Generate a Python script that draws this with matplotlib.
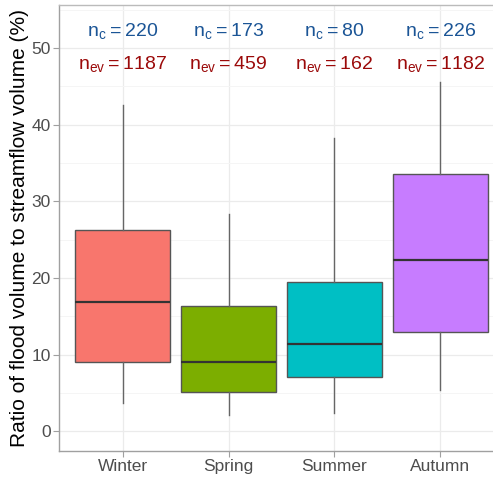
import matplotlib.pyplot as plt
import numpy as np

plt.rcParams['font.family'] = ['Liberation Sans', 'DejaVu Sans']
plt.rcParams['mathtext.fontset'] = 'custom'
plt.rcParams['mathtext.rm'] = 'Liberation Sans'

# 계절별 박스플롯 통계값
seasons = ['Winter', 'Spring', 'Summer', 'Autumn']
whisker_low = [3.65, 2.1, 2.35, 5.4]
q1 = [9.0, 5.1, 7.05, 13.0]
median = [16.9, 9.1, 11.35, 22.3]
q3 = [26.3, 16.3, 19.45, 33.6]
whisker_high = [42.5, 28.3, 38.25, 45.6]
n_c = [220, 173, 80, 226]
n_ev = [1187, 459, 162, 1182]
colors = ['#F8766D', '#7CAE00', '#00BFC4', '#C77CFF']

fig = plt.figure(figsize=(4.93, 4.79), dpi=100)
ax = fig.add_axes([59 / 493, 28 / 479, 445 / 493, 446 / 479])

stats = []
for i, s in enumerate(seasons):
    stats.append(dict(label=s, whislo=whisker_low[i], q1=q1[i], med=median[i],
                      q3=q3[i], whishi=whisker_high[i], fliers=[]))

pos = np.arange(1, len(seasons) + 1)
bp = ax.bxp(stats, positions=pos, widths=0.9, patch_artist=True, showcaps=False,
            boxprops=dict(edgecolor='#555555', linewidth=1.0),
            whiskerprops=dict(color='#666666', linewidth=1.0),
            medianprops=dict(color='#333333', linewidth=1.6), zorder=3)
for patch, c in zip(bp['boxes'], colors):
    patch.set_facecolor(c)

# 샘플 수 텍스트
for i in range(len(seasons)):
    ax.text(pos[i], 51.5, r'$\mathregular{n_c = %d}$' % n_c[i], color='#1B5596',
            fontsize=14, ha='center', va='baseline', zorder=4)
    ax.text(pos[i], 47.3, r'$\mathregular{n_{ev} = %d}$' % n_ev[i], color='#9B0A0A',
            fontsize=14, ha='center', va='baseline', zorder=4)

ax.set_xlim(0.4, 4.6)
ax.set_ylim(-2.57, 55.6)
ax.set_xticks(pos)
ax.set_xticklabels(seasons)
ax.set_yticks(np.arange(0, 51, 10))
ax.set_yticks(np.arange(5, 56, 10), minor=True)

ax.grid(True, which='major', color='#EBEBEB', linewidth=0.9, zorder=0)
ax.grid(True, which='minor', axis='y', color='#F5F5F5', linewidth=0.7, zorder=0)
ax.set_axisbelow(True)

for side in ['top', 'right']:
    ax.spines[side].set_color('#BBBBBB')
for side in ['left', 'bottom']:
    ax.spines[side].set_color('#A0A0A0')
for sp in ax.spines.values():
    sp.set_linewidth(1.0)

ax.tick_params(axis='both', which='major', length=4, width=0.8, color='#A0A0A0',
               labelsize=12.5, labelcolor='#4D4D4D', pad=2)
ax.tick_params(axis='both', which='minor', length=0)

ax.set_ylabel('Ratio of flood volume to streamflow volume (%)', fontsize=15,
              color='black', labelpad=2)

fig.savefig('out.png', dpi=100)
